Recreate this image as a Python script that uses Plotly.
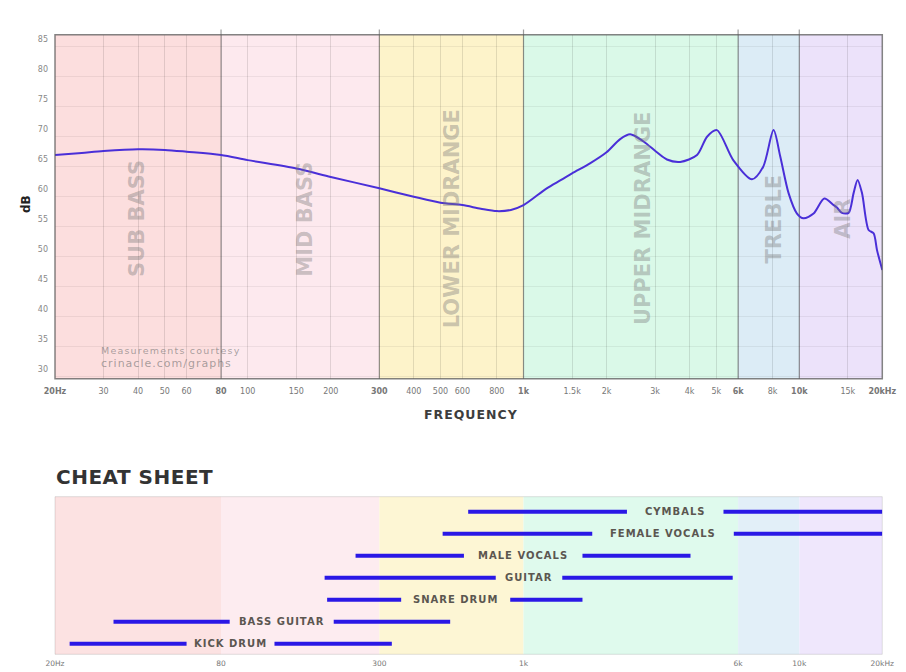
import plotly.graph_objects as go
import math

# ---------------- data ----------------
freq_hz = [20, 25, 30, 40, 50, 60, 80, 100, 150, 200, 300, 400, 500, 600, 700, 800, 900, 1000,
           1214, 1369, 1500, 1748, 2000, 2241, 2437, 2724, 3028, 3311, 3700, 4258, 4630, 5026,
           5761, 6736, 7400, 8066, 8531, 9144, 9808, 10364, 11268, 12320, 13320, 13696, 14282,
           15092, 15738, 16272, 16880, 17840, 18600, 19134, 20000]
level_db = [66.95, 67.3, 67.6, 67.9, 67.8, 67.5, 66.95, 66.1, 64.7, 63.3, 61.4, 60.0, 59.0, 58.6,
            58.0, 57.6, 57.8, 58.6, 61.4, 62.8, 63.9, 65.6, 67.4, 69.6, 70.4, 69.2, 67.5, 66.2,
            65.8, 66.95, 70.0, 71.1, 66.1, 62.9, 65.0, 71.1, 66.7, 60.6, 57.2, 56.4, 57.2, 59.7,
            58.6, 58.2, 57.3, 57.3, 60.6, 62.8, 60.6, 54.45, 53.9, 51.1, 47.8]

band_names = ["SUB BASS", "MID BASS", "LOWER MIDRANGE", "UPPER MIDRANGE", "TREBLE", "AIR"]
band_lo = [20, 80, 300, 1000, 6000, 10000]
band_hi = [80, 300, 1000, 6000, 10000, 20000]
band_label_hz = [39.7, 161, 552, 2716, 8066, 14400]
band_colors = ["rgb(252,222,222)", "rgb(253,233,238)", "rgb(253,243,202)",
               "rgb(218,249,232)", "rgb(220,236,246)", "rgb(236,226,250)"]
sheet_colors = ["rgb(252,226,226)", "rgb(253,236,240)", "rgb(253,246,212)",
                "rgb(223,250,237)", "rgb(226,239,248)", "rgb(239,231,252)"]

x_tickvals = [20, 30, 40, 50, 60, 80, 100, 150, 200, 300, 400, 500, 600, 800, 1000, 1500,
              2000, 3000, 4000, 5000, 6000, 8000, 10000, 15000, 20000]
x_ticklabels = ["20Hz", "30", "40", "50", "60", "80", "100", "150", "200", "300", "400", "500",
                "600", "800", "1k", "1.5k", "2k", "3k", "4k", "5k", "6k", "8k", "10k", "15k",
                "20kHz"]
x_bold_ticks = ["20Hz", "80", "300", "1k", "6k", "10k", "20kHz"]
y_tickvals = [30, 35, 40, 45, 50, 55, 60, 65, 70, 75, 80, 85]

sheet_tickvals = [20, 80, 300, 1000, 6000, 10000, 20000]
sheet_ticklabels = ["20Hz", "80", "300", "1k", "6k", "10k", "20kHz"]

instruments = ["KICK DRUM", "BASS GUITAR", "SNARE DRUM", "GUITAR", "MALE VOCALS",
               "FEMALE VOCALS", "CYMBALS"]
inst_lo = [22.6, 32.6, 194, 190, 246, 509, 630]
inst_gap_lo = [60, 86, 360, 793, 608, 1775, 2372]
inst_gap_hi = [125, 205, 895, 1382, 1636, 5788, 5310]
inst_hi = [333, 542, 1636, 5735, 4032, 20000, 20000]

# ---------------- figure ----------------
W, H = 906, 672
OFF = 8  # page body margin
def px(x):
    return (x - OFF) / W
def py(y):
    return 1 - (y - OFF) / H

fig = go.Figure()

fig.add_trace(go.Scatter(x=freq_hz, y=level_db, mode="lines",
                         line=dict(color="#4a2fd8", width=2, shape="spline", smoothing=0.8),
                         xaxis="x", yaxis="y", hoverinfo="skip", showlegend=False))

bx, by = [], []
for i, name in enumerate(instruments):
    bx += [inst_lo[i], inst_gap_lo[i], None, inst_gap_hi[i], inst_hi[i], None]
    by += [i, i, None, i, i, None]
fig.add_trace(go.Scatter(x=bx, y=by, mode="lines", line=dict(color="#2a18e6", width=4),
                         xaxis="x2", yaxis="y2", hoverinfo="skip", showlegend=False))

shapes = []
for lo, hi, c in zip(band_lo, band_hi, band_colors):
    shapes.append(dict(type="rect", xref="x", yref="paper", x0=lo, x1=hi,
                       y0=py(378.7), y1=py(34.7), fillcolor=c, line_width=0, layer="below"))
for lo, hi, c in zip(band_lo, band_hi, sheet_colors):
    shapes.append(dict(type="rect", xref="x2", yref="paper", x0=lo, x1=hi,
                       y0=py(654.3), y1=py(496.7), fillcolor=c, line_width=0, layer="below"))
for b in band_lo[1:]:
    shapes.append(dict(type="line", xref="x", yref="paper", x0=b, x1=b,
                       y0=py(378.7), y1=py(29.5), line=dict(color="rgba(80,80,80,0.55)", width=1.2),
                       layer="between"))
# frames
shapes.append(dict(type="rect", xref="paper", yref="paper", x0=px(55), x1=px(882.3),
                   y0=py(378.7), y1=py(34.7), line=dict(color="rgba(90,90,90,0.75)", width=1.5),
                   fillcolor="rgba(0,0,0,0)", layer="above"))
shapes.append(dict(type="rect", xref="paper", yref="paper", x0=px(55), x1=px(882.3),
                   y0=py(654.3), y1=py(496.7), line=dict(color="rgba(0,0,0,0.12)", width=1),
                   fillcolor="rgba(0,0,0,0)", layer="above"))

annotations = []
for name, f in zip(band_names, band_label_hz):
    annotations.append(dict(text=name, x=math.log10(f), y=56.3, xref="x", yref="y",
                            xanchor="center", yanchor="middle",
                            textangle=-90, showarrow=False,
                            font=dict(family="DejaVu Sans", size=21, color="rgba(120,120,120,0.40)",
                                      weight="bold")))
for i, name in enumerate(instruments):
    cx = 0.5 * (math.log10(inst_gap_lo[i]) + math.log10(inst_gap_hi[i]))
    annotations.append(dict(text='<span style="letter-spacing:1px">' + name + '</span>',
                            x=cx, y=i, xref="x2", yref="y2", showarrow=False,
                            xanchor="center", yanchor="middle",
                            font=dict(family="DejaVu Sans", size=10, color="#5b5650", weight="bold")))

annotations += [
    dict(text="dB", x=px(26), y=py(204), xref="paper", yref="paper", textangle=-90,
         xanchor="center", yanchor="middle",
         showarrow=False, font=dict(family="DejaVu Sans", size=12, color="#222", weight="bold")),
    dict(text='<span style="letter-spacing:1px">FREQUENCY</span>', x=px(471), y=py(414),
         xref="paper", yref="paper", showarrow=False, xanchor="center", yanchor="middle",
         font=dict(family="DejaVu Sans", size=12.5, color="#3d3d3d", weight="bold")),
    dict(text='<span style="letter-spacing:0.5px">CHEAT SHEET</span>', x=px(54), y=py(477),
         xref="paper", yref="paper", xanchor="left", yanchor="middle", showarrow=False,
         font=dict(family="DejaVu Sans", size=20, color="#333", weight="bold")),
    dict(text='<span style="letter-spacing:1.2px">Measurements courtesy</span>', x=px(99), y=py(350),
         xref="paper", yref="paper", xanchor="left", yanchor="middle", showarrow=False,
         font=dict(family="DejaVu Sans", size=9.5, color="rgba(110,110,110,0.6)")),
    dict(text='<span style="letter-spacing:1px">crinacle.com/graphs</span>', x=px(99), y=py(363),
         xref="paper", yref="paper", xanchor="left", yanchor="middle", showarrow=False,
         font=dict(family="DejaVu Sans", size=11, color="rgba(110,110,110,0.6)")),
]

ticktext = [("<b>%s</b>" % t) if t in x_bold_ticks else t for t in x_ticklabels]

fig.update_layout(
    width=W, height=H, margin=dict(l=0, r=0, t=0, b=0, autoexpand=False),
    paper_bgcolor="white", plot_bgcolor="rgba(0,0,0,0)",
    showlegend=False, shapes=shapes, annotations=annotations,
    xaxis=dict(type="log", domain=[px(55), px(882.3)], range=[math.log10(20), math.log10(20000)],
               tickvals=x_tickvals, ticktext=ticktext, showgrid=True, automargin=False,
               gridcolor="rgba(0,0,0,0.11)", gridwidth=1, zeroline=False, showline=False,
               tickfont=dict(family="DejaVu Sans", size=8, color="#777"), ticks="",
               ticklabelstandoff=6, anchor="y", fixedrange=True),
    yaxis=dict(domain=[py(378.7), py(34.7)], range=[29.67, 87.0], tickvals=y_tickvals,
               showgrid=True, gridcolor="rgba(0,0,0,0.06)", zeroline=False, showline=False,
               automargin=False,
               tickfont=dict(family="DejaVu Sans", size=8, color="#888"), ticks="",
               ticklabelshift=-8, ticklabelstandoff=6, anchor="x", fixedrange=True),
    xaxis2=dict(type="log", domain=[px(55), px(882.3)], range=[math.log10(20), math.log10(20000)],
                tickvals=sheet_tickvals, ticktext=sheet_ticklabels, showgrid=False,
                zeroline=False, showline=False, ticks="", automargin=False,
                tickfont=dict(family="DejaVu Sans", size=7.5, color="#777"),
                ticklabelstandoff=3, anchor="y2", fixedrange=True),
    yaxis2=dict(domain=[py(654.3), py(496.7)], range=[-0.48, 6.68], showgrid=False,
                zeroline=False, showline=False, showticklabels=False, anchor="x2",
                automargin=False, fixedrange=True),
)

fig.write_html("out.html")
